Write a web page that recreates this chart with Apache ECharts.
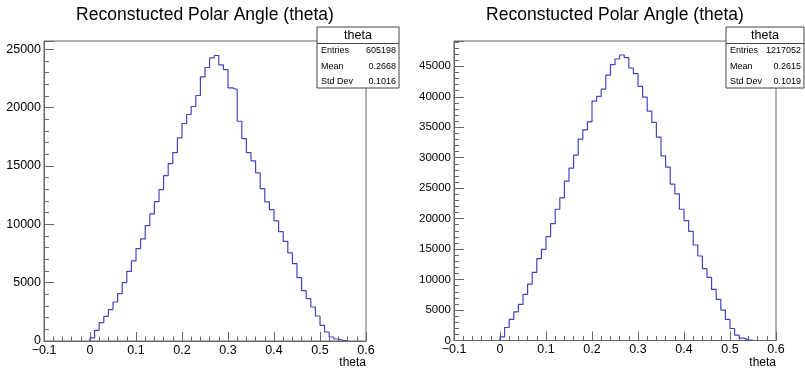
<!DOCTYPE html>
<html>
<head>
<meta charset="utf-8">
<script src="https://cdn.jsdelivr.net/npm/echarts@6/dist/echarts.min.js"></script>
<style>
  html, body { margin: 0; padding: 0; background: #fff; }
  #main { width: 805px; height: 369px; }
</style>
</head>
<body>
<div id="main"></div>
<script>
// bin contents, bin width 0.01 starting at theta = 0
var binStart = 0;
var binWidth = 0.01;
var leftCounts = [260, 917, 1577, 2117, 2690, 3342, 4062, 5005, 5973, 6856,
    7919, 8741, 9890, 10884, 11947, 12975, 14175, 15203, 16146, 17397,
    18631, 19402, 20088, 21031, 22625, 23430, 24253, 24459, 23656, 23256,
    21684, 21541, 18827, 17342, 16142, 15428, 14399, 13056, 11914, 11257,
    10285, 9371, 8542, 7542, 6628, 5428, 4314, 3628, 2914, 2143,
    1343, 771, 343, 171, 57, 20];
var rightCounts = [603, 2137, 3452, 4713, 5918, 7562, 9261, 11179, 13426, 14960,
    17043, 19180, 21536, 23400, 26140, 28277, 30414, 33044, 34579, 35894,
    39292, 40059, 41264, 43566, 45265, 46196, 46854, 46416, 44717, 43785,
    41703, 39949, 37648, 35784, 33373, 30304, 28441, 25646, 24057, 21536,
    19673, 17920, 15673, 13864, 11782, 10357, 8384, 6740, 4987, 3452,
    1973, 877, 384, 110, 30];

var titleText = 'Reconstucted Polar Angle (theta)';
var xTitle = 'theta';
var leftStats = [['Entries', '605198'], ['Mean', '0.2668'], ['Std Dev', '0.1016']];
var rightStats = [['Entries', '1217052'], ['Mean', '0.2615'], ['Std Dev', '0.1019']];
var leftYMax = 25700;
var rightYMax = 49150;

var lineColor = '#4444c0';
var frameColor = '#666';
var font = '"Liberation Sans", Arial, Helvetica, sans-serif';

// turn bin contents into step points
function histPoints(counts) {
    var pts = [[binStart, 0]];
    for (var i = 0; i < counts.length; i++) {
        pts.push([+(binStart + i * binWidth).toFixed(4), counts[i]]);
    }
    pts.push([+(binStart + counts.length * binWidth).toFixed(4), 0]);
    return pts;
}

function xLabel(v) {
    if (Math.abs(v) < 1e-9) return '0';
    if (v < 0) return '\u2212' + Math.abs(v).toFixed(1);
    return v.toFixed(1);
}

function xAxisCfg(gridIndex) {
    return {
        type: 'value', gridIndex: gridIndex, min: -0.1, max: 0.6, interval: 0.1,
        position: 'bottom',
        axisLine: { show: true, onZero: false, lineStyle: { color: frameColor, width: 1 } },
        axisTick: { show: true, inside: true, length: 9, lineStyle: { color: frameColor } },
        minorTick: { show: true, splitNumber: 5, length: 4.5, lineStyle: { color: frameColor } },
        splitLine: { show: false },
        axisLabel: { color: '#000', fontFamily: font, fontSize: 12.5, margin: 3, formatter: xLabel }
    };
}

function yAxisCfgs(gridIndex, max, fontSize) {
    return [{
        type: 'value', gridIndex: gridIndex, min: 0, max: max, interval: 5000,
        position: 'left',
        axisLine: { show: true, onZero: false, lineStyle: { color: frameColor, width: 1 } },
        axisTick: { show: true, inside: true, length: 10, lineStyle: { color: frameColor } },
        splitLine: { show: false },
        axisLabel: {
            color: '#000', fontFamily: font, fontSize: fontSize, margin: 3,
            formatter: function (v) { return v % 5000 === 0 ? String(v) : ''; }
        }
    }, {
        // minor ticks every 1000
        type: 'value', gridIndex: gridIndex, min: 0, max: max, interval: 1000,
        position: 'left',
        axisLine: { show: false, onZero: false },
        axisTick: { show: true, inside: true, length: 5, lineStyle: { color: frameColor } },
        splitLine: { show: false },
        axisLabel: { show: false }
    }];
}

function statsBox(x, y, w, rows) {
    var children = [{
        type: 'rect', z: 100, shape: { x: x, y: y, width: w, height: 61 },
        style: { fill: '#fff', stroke: '#444', lineWidth: 1 }
    }, {
        type: 'line', z: 101, shape: { x1: x, y1: y + 16.5, x2: x + w, y2: y + 16.5 },
        style: { stroke: '#444', lineWidth: 1 }
    }, {
        type: 'text', z: 101, x: x + w / 2, y: y + 8.5,
        style: { text: 'theta', font: '12.5px ' + font, fill: '#000', align: 'center', verticalAlign: 'middle' }
    }];
    rows.forEach(function (r, i) {
        var cy = y + 24 + i * 15.3;
        children.push({
            type: 'text', z: 101, x: x + 4, y: cy,
            style: { text: r[0], font: '9px ' + font, fill: '#000', align: 'left', verticalAlign: 'middle' }
        });
        children.push({
            type: 'text', z: 101, x: x + w - 3, y: cy,
            style: { text: r[1], font: '9px ' + font, fill: '#000', align: 'right', verticalAlign: 'middle' }
        });
    });
    return { type: 'group', z: 100, children: children };
}

var chart = echarts.init(document.getElementById('main'), null, { renderer: 'canvas' });

var yLeft = yAxisCfgs(0, leftYMax, 12.5);
var yRight = yAxisCfgs(1, rightYMax, 11.5);

var option = {
    backgroundColor: '#fff',
    animation: false,
    grid: [
        { left: 44, top: 41, width: 322, height: 300, show: true, borderColor: frameColor, borderWidth: 1, backgroundColor: '#fff' },
        { left: 454, top: 41, width: 322, height: 299.5, show: true, borderColor: frameColor, borderWidth: 1, backgroundColor: '#fff' }
    ],
    xAxis: [xAxisCfg(0), xAxisCfg(1)],
    yAxis: [yLeft[0], yLeft[1], yRight[0], yRight[1]],
    series: [{
        type: 'line', xAxisIndex: 0, yAxisIndex: 0, step: 'end', symbol: 'none',
        lineStyle: { color: lineColor, width: 1.2 },
        data: histPoints(leftCounts)
    }, {
        type: 'line', xAxisIndex: 1, yAxisIndex: 2, step: 'end', symbol: 'none',
        lineStyle: { color: lineColor, width: 1.2 },
        data: histPoints(rightCounts)
    }],
    graphic: [
        { type: 'text', x: 205, y: 15, style: { text: titleText, font: '17.5px ' + font, fill: '#000', align: 'center', verticalAlign: 'middle' } },
        { type: 'text', x: 615, y: 15, style: { text: titleText, font: '17.5px ' + font, fill: '#000', align: 'center', verticalAlign: 'middle' } },
        { type: 'text', x: 366, y: 363, style: { text: xTitle, font: '12px ' + font, fill: '#000', align: 'right', verticalAlign: 'middle' } },
        { type: 'text', x: 776, y: 363, style: { text: xTitle, font: '12px ' + font, fill: '#000', align: 'right', verticalAlign: 'middle' } },
        statsBox(317, 27, 82, leftStats),
        statsBox(726, 27, 78, rightStats)
    ]
};

chart.setOption(option);
window.addEventListener('resize', chart.resize);
</script>
</body>
</html>
